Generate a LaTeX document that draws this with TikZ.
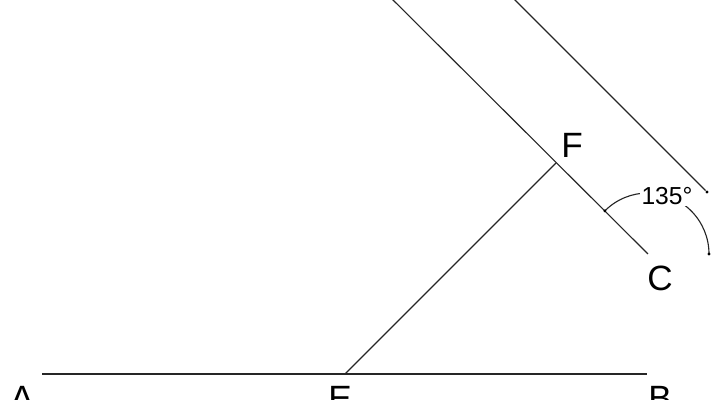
\documentclass[tikz,border=0pt]{standalone}
\usepackage{fontspec}
\setmainfont{Liberation Sans}
\usepackage{tikz}

\begin{document}
\begin{tikzpicture}[line width=0.8pt, draw=black!85,
  lbl/.style={font=\fontsize{25}{25}\selectfont, inner sep=0pt},
  dot/.style={circle, fill=black, inner sep=0pt, minimum size=2.2pt}]
\useasboundingbox (0,0) rectangle (18,10);
\clip (0,0) rectangle (18,10);

\coordinate (a) at (1.05,0.65);
\coordinate (b) at (16.175,0.65);
\coordinate (e) at (8.625,0.65);
\coordinate (f) at (13.9,5.925);
\coordinate (c) at (16.2,3.65);
\coordinate (top) at (9.7,10.125);
\coordinate (outertop) at (12.75,10.125);
\node[dot] (outerend) at (17.675,5.2) {};

\draw (a) -- (b);
\draw (e) -- (f);
\draw (top) -- (c);
\draw (outertop) -- (outerend);

\draw (c) ++(135:1.525) node[dot] (arcstart) {} arc (135:0:1.525) node[dot] (arcend) {};
\node[fill=white, inner sep=1pt, font=\fontsize{17.5}{17.5}\selectfont] (angle) at (16.675,5.1) {135\textdegree};

\node[lbl] (labelf) at (14.3,6.375) {F};
\node[lbl] (labelc) at (16.5,3.05) {C};
\node[lbl] (labela) at (0.55,0.05) {A};
\node[lbl] (labele) at (8.5,0.05) {E};
\node[lbl] (labelb) at (16.5,0.05) {B};

\end{tikzpicture}
\end{document}
